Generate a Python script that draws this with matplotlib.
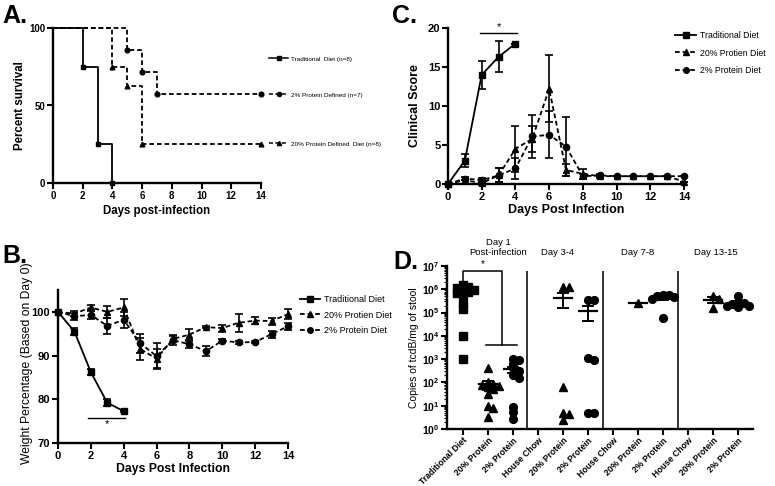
import numpy as np
import matplotlib
matplotlib.use('Agg')
import matplotlib.pyplot as plt
from matplotlib.lines import Line2D
from matplotlib.legend import Legend
from matplotlib.ticker import FixedLocator, FuncFormatter, LogLocator, NullFormatter

plt.rcParams['font.family'] = ['Liberation Sans', 'DejaVu Sans']
plt.rcParams['mathtext.fontset'] = 'custom'
plt.rcParams['mathtext.rm'] = 'Liberation Sans'
plt.rcParams['mathtext.bf'] = 'Liberation Sans:bold'

# ---------------- data ----------------
# Panel A: survival (Kaplan-Meier steps)
surv_trad_t = [0, 2, 3, 4]
surv_trad = [100, 75, 25, 0]
surv_p20_t = [0, 4, 5, 6, 14]
surv_p20 = [100, 75, 62.5, 25, 25]
surv_p2_t = [0, 5, 6, 7, 14]
surv_p2 = [100, 85.7, 71.4, 57.1, 57.1]
surv_labels = ["Traditional  Diet (n=8)", "2% Protein Defined (n=7)", "20% Protein Defined  Diet (n=8)"]

# Panel B: weight
days_short = [0, 1, 2, 3, 4]
days = list(range(15))
w_trad = [100, 95.5, 86.2, 79.2, 77.3]
w_trad_err = [0, 0.8, 0.7, 0.8, 0.3]
w_p20 = [100, 99.6, 101.0, 100.0, 101.0, 91.5, 89.3, 93.8, 94.8, 96.5, 96.3, 97.5, 98.0, 97.9, 99.5]
w_p20_err = [0, 0.6, 0.5, 1.3, 2.0, 2.5, 2.2, 0.8, 1.3, 0.3, 0.8, 2.0, 0.8, 0.8, 1.2]
w_p2 = [100, 99.0, 99.3, 96.8, 98.2, 92.8, 89.9, 93.5, 92.6, 91.0, 93.4, 93.0, 93.1, 94.9, 96.7]
w_p2_err = [0, 0.8, 1.0, 1.8, 1.8, 2.2, 3.0, 1.0, 0.8, 1.2, 0.3, 0.3, 0.3, 0.8, 0.8]

# Panel C: clinical score
c_trad = [0, 3.0, 14.0, 16.3, 18.0]
c_trad_err = [0, 0.8, 1.8, 2.0, 0]
c_p20 = [0, 0.5, 0.1, 1.1, 4.5, 5.8, 12.2, 1.8, 1.3, 1.0, 1.0, 1.0, 1.0, 1.0, 0.3]
c_p20_err = [0, 0, 0.2, 0.9, 3.0, 1.7, 4.3, 0.8, 0.6, 0.2, 0, 0, 0, 0, 0]
c_p2 = [0, 0.7, 0.5, 1.1, 2.0, 6.1, 6.3, 4.8, 1.0, 1.1, 1.0, 1.0, 1.0, 1.0, 1.0]
c_p2_err = [0, 0.2, 0.3, 0.9, 1.3, 2.8, 3.0, 3.8, 0.3, 0.2, 0, 0, 0, 0, 0]
series_labels = ["Traditional Diet", "20% Protien Diet", "2% Protein Diet"]

# Panel D: tcdB copies (log10 values per category)
d_categories = ["Traditional Diet", "20% Protein", "2% Protein", "House Chow",
                "20% Protein", "2% Protein", "House Chow",
                "20% Protein", "2% Protein", "House Chow",
                "20% Protein", "2% Protein"]
d_markers = ['s', '^', 'o', 'o', '^', 'o', 'o', '^', 'o', 'o', '^', 'o']
d_log_values = [
    [6.2, 6.1, 6.05, 6.0, 5.95, 5.9, 5.85, 5.8, 5.4, 5.15, 4.0, 3.0],
    [2.6, 2.0, 1.95, 1.9, 1.85, 1.8, 1.7, 1.5, 1.0, 0.9, 0.5],
    [3.0, 2.95, 2.8, 2.6, 2.5, 2.3, 2.2, 0.95, 0.75, 0.45],
    [],
    [6.1, 6.1, 1.8, 0.7, 0.65, 0.4],
    [5.55, 5.55, 3.05, 2.95, 0.7, 0.7],
    [],
    [5.4],
    [5.75, 5.75, 5.7, 5.65, 5.6, 4.75],
    [],
    [5.7, 5.6, 5.2],
    [5.7, 5.45, 5.4, 5.35, 5.3, 5.3, 5.25],
]
d_groups = ["Day 1\nPost-infection", "Day 3-4", "Day 7-8", "Day 13-15"]

# ---------------- figure ----------------
W, H = 775, 486
fig = plt.figure(figsize=(W / 100, H / 100), dpi=100)


def add_ax(l, t, r, b):
    return fig.add_axes([l / W, 1 - b / H, (r - l) / W, (b - t) / H])


def style(ax, fs):
    for s in ['top', 'right']:
        ax.spines[s].set_visible(False)
    for s in ['left', 'bottom']:
        ax.spines[s].set_linewidth(1.7)
    ax.tick_params(direction='out', width=1.5, length=4, labelsize=fs, pad=1.5)
    for lab in ax.get_xticklabels() + ax.get_yticklabels():
        lab.set_fontweight('bold')


def legend_at(ax, handles, labels, xpx, ypx, fs, spacing=0.5, hl=2.2):
    leg = Legend(ax, handles, labels, loc='center left',
                 bbox_to_anchor=(xpx / W, 1 - ypx / H), bbox_transform=fig.transFigure,
                 frameon=False, fontsize=fs, handlelength=hl, handletextpad=0.5,
                 borderpad=0, borderaxespad=0, labelspacing=spacing)
    ax.add_artist(leg)


DASH = (0, (2.6, 1.6))
LW = 1.3

# ---- Panel A ----
axA = add_ax(53, 28, 261, 183)
axA.step(surv_trad_t, surv_trad, where='post', color='black', lw=LW, clip_on=False)
axA.plot(surv_trad_t[1:], surv_trad[1:], 's', color='black', ms=3.4, clip_on=False)
axA.step(surv_p20_t, surv_p20, where='post', color='black', lw=LW, ls=DASH, clip_on=False)
axA.plot(surv_p20_t[1:], surv_p20[1:], '^', color='black', ms=3.4, clip_on=False)
axA.step(surv_p2_t, surv_p2, where='post', color='black', lw=LW, ls=DASH, clip_on=False)
axA.plot(surv_p2_t[1:], surv_p2[1:], 'o', color='black', ms=3.4, clip_on=False)
axA.set_xlim(0, 14)
axA.set_ylim(0, 100)
axA.set_xticks([0, 2, 4, 6, 8, 10, 12, 14])
axA.set_yticks([0, 50, 100])
axA.set_xlabel("Days post-infection", fontsize=8.3, fontweight='bold', labelpad=3)
axA.set_ylabel("Percent survival", fontsize=8.3, fontweight='bold', labelpad=2)
style(axA, 7)
hA = [Line2D([], [], color='black', lw=1.1, marker='s', ms=3),
      Line2D([], [], color='black', lw=1.1, ls=DASH, marker='o', ms=3),
      Line2D([], [], color='black', lw=1.1, ls=DASH, marker='^', ms=3)]
for h, lab, ypx in zip(hA, surv_labels, [59, 95, 144]):
    legend_at(axA, [h], [lab], 269, ypx, 4.6, hl=3.0)
fig.text(2 / W, 1 - 4 / H, "A.", fontsize=18, fontweight='bold', va='top', ha='left')

# ---- Panel C ----
axC = add_ax(448, 28, 684, 184)
axC.errorbar(days_short, c_trad, yerr=c_trad_err, color='black', lw=LW, marker='s', ms=5,
             capsize=3, elinewidth=1.2, capthick=1.2, clip_on=False)
axC.errorbar(days, c_p20, yerr=c_p20_err, color='black', lw=LW, ls=DASH, marker='^', ms=4.5,
             capsize=3, elinewidth=1.2, capthick=1.2, clip_on=False)
axC.errorbar(days, c_p2, yerr=c_p2_err, color='black', lw=LW, ls=DASH, marker='o', ms=4.5,
             capsize=3, elinewidth=1.2, capthick=1.2, clip_on=False)
axC.plot([1.9, 4.1], [19.4, 19.4], color='black', lw=1)
axC.text(3, 19.5, "*", ha='center', va='bottom', fontsize=8)
axC.set_xlim(0, 14)
axC.set_ylim(0, 20)
axC.set_xticks([0, 2, 4, 6, 8, 10, 12, 14])
axC.set_yticks([0, 5, 10, 15, 20])
axC.set_xlabel("Days Post Infection", fontsize=9, fontweight='bold', labelpad=2)
axC.set_ylabel("Clinical Score", fontsize=9, fontweight='bold', labelpad=5)
style(axC, 8)
hS = [Line2D([], [], color='black', lw=1.3, marker='s', ms=4),
      Line2D([], [], color='black', lw=1.3, ls=DASH, marker='^', ms=4),
      Line2D([], [], color='black', lw=1.3, ls=DASH, marker='o', ms=4)]
legend_at(axC, hS, series_labels, 675, 53, 6.3, spacing=0.95, hl=2.4)
fig.text(392 / W, 1 - 4 / H, "C.", fontsize=18, fontweight='bold', va='top', ha='left')

# ---- Panel B ----
axB = add_ax(58, 290, 288, 443)
axB.errorbar(days_short, w_trad, yerr=w_trad_err, color='black', lw=LW, marker='s', ms=5,
             capsize=3, elinewidth=1.2, capthick=1.2, clip_on=False)
axB.errorbar(days, w_p20, yerr=w_p20_err, color='black', lw=LW, ls=DASH, marker='^', ms=4.5,
             capsize=3, elinewidth=1.2, capthick=1.2, clip_on=False)
axB.errorbar(days, w_p2, yerr=w_p2_err, color='black', lw=LW, ls=DASH, marker='o', ms=4.5,
             capsize=3, elinewidth=1.2, capthick=1.2, clip_on=False)
axB.plot([1.8, 4.1], [75.8, 75.8], color='black', lw=1)
axB.text(3, 75.5, "*", ha='center', va='top', fontsize=8)
axB.set_xlim(0, 14)
axB.set_ylim(70, 105)
axB.set_xticks([0, 2, 4, 6, 8, 10, 12, 14])
axB.set_yticks([70, 80, 90, 100])
axB.set_xlabel("Days Post Infection", fontsize=8.8, fontweight='bold', labelpad=2)
axB.set_ylabel("Weight Percentage (Based on Day 0)", fontsize=8.7)
axB.yaxis.set_label_coords(-0.11, 0.52)
style(axB, 8)
legend_at(axB, hS, series_labels, 300, 315, 6.5, spacing=0.75, hl=2.2)
fig.text(2 / W, 1 - 244 / H, "B.", fontsize=18, fontweight='bold', va='top', ha='left')

# ---- Panel D ----
axD = add_ax(447, 266, 753, 429)
XS, YS, DIAM = 25.0, 23.3, 7.5   # px per category, px per decade, marker diameter (px)


def swarm(vals, xc):
    placed, xs = [], []
    steps = [0, 1, -1, 2, -2, 3, -3, 4, -4]
    for v in vals:
        y = v * YS
        xoff = 0
        for k in steps:
            x = k * DIAM * 0.38
            if all((x - px) ** 2 + (y - py) ** 2 >= (DIAM * 0.62) ** 2 for px, py in placed):
                xoff = x
                break
        placed.append((xoff, y))
        xs.append(xc + xoff / XS)
    return xs


for i, (vals, mk) in enumerate(zip(d_log_values, d_markers)):
    if not vals:
        continue
    lin = 10 ** np.array(vals)
    xs = swarm(vals, i)
    axD.plot(xs, lin, ls='none', marker=mk, color='black', ms=5.6, clip_on=False, zorder=3)
    m = lin.mean()
    axD.plot([i - 0.36, i + 0.36], [m, m], color='black', lw=1.6, zorder=4)
    if len(lin) > 1:
        sem = lin.std(ddof=1) / np.sqrt(len(lin))
        lo, hi = max(m - sem, 1.05), m + sem
        axD.plot([i, i], [lo, hi], color='black', lw=1.4, zorder=4)
        axD.plot([i - 0.2, i + 0.2], [hi, hi], color='black', lw=1.4, zorder=4)
        axD.plot([i - 0.2, i + 0.2], [lo, lo], color='black', lw=1.4, zorder=4)

# separators
axD.vlines([2.55, 5.6, 8.62], 1, 10 ** 6.8, color='#333333', lw=1.4)
# significance bracket
axD.plot([0, 0, 1.56, 1.56], [10 ** 6.25, 10 ** 6.8, 10 ** 6.8, 10 ** 3.6], color='black', lw=1.1)
axD.plot([0.92, 2.16], [10 ** 3.6, 10 ** 3.6], color='black', lw=1.1)
axD.text(0.8, 10 ** 6.85, "*", ha='center', va='bottom', fontsize=7)

axD.set_yscale('log')
axD.set_ylim(1, 1e7)
axD.set_xlim(-0.63, 11.6)
axD.set_xticks(range(len(d_categories)))
axD.set_xticklabels(d_categories, rotation=45, ha='right', rotation_mode='anchor')
axD.yaxis.set_major_locator(FixedLocator([10 ** k for k in range(8)]))
axD.yaxis.set_major_formatter(FuncFormatter(lambda v, p: r'$\mathbf{10^{%d}}$' % round(np.log10(v))))
axD.yaxis.set_minor_locator(LogLocator(base=10, subs=np.arange(2, 10), numticks=20))
axD.yaxis.set_minor_formatter(NullFormatter())
axD.set_ylabel("Copies of tcdB/mg of stool", fontsize=7.5, labelpad=2)
style(axD, 7.5)
axD.tick_params(axis='y', which='minor', length=2, width=0.8)
axD.tick_params(axis='x', labelsize=6.2, pad=1)
for i, (g, xc) in enumerate(zip(d_groups, [1.41, 3.8, 6.97, 10.1])):
    axD.text(xc, 1.055, g, transform=axD.get_xaxis_transform(), ha='center', va='bottom',
             fontsize=6.8, linespacing=1.15)
fig.text(393 / W, 1 - 250 / H, "D.", fontsize=18, fontweight='bold', va='top', ha='left')

fig.savefig("out.png", dpi=100)
